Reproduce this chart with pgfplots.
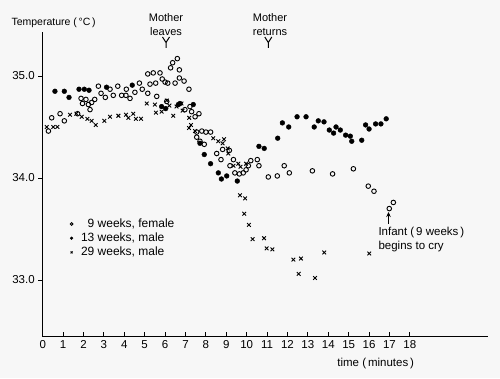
\documentclass[border=0pt]{standalone}
\usepackage{fontspec}
\setmainfont{Liberation Sans}
\usepackage{pgfplots}
\pgfplotsset{compat=1.18}
\usetikzlibrary{arrows.meta}
\begin{document}
\begin{tikzpicture}
\fill[black!3] (0pt,0pt) rectangle (500pt,378pt);
\useasboundingbox (0pt,0pt) rectangle (500pt,378pt);
\begin{axis}[
  at={(42.7pt,41.3pt)}, anchor=south west,
  scale only axis, width=445.3pt, height=305pt,
  xmin=0, xmax=21.83, ymin=32.444, ymax=35.434,
  axis x line=bottom, axis y line=left,
  axis line style={-, line width=1.1pt},
  xtick={0,...,18}, ytick={33,34,35}, yticklabels={33.0,34.0,35.0},
  xtick align=inside, ytick align=outside,
  major tick length=4.5pt,
  tick style={line width=0.9pt, black},
  /pgf/number format/assume math mode=true,
  tick label style={font=\fontsize{11.5}{13}\selectfont},
  clip=false,
  legend style={draw=none, fill=none, at={(0.0546,0.40)}, anchor=north west,
    font=\fontsize{12}{13.5}\selectfont, column sep=6pt,
    nodes={font=\fontsize{12}{13.5}\selectfont}},
  legend cell align=left,
  legend image post style={mark size=1.4pt},
]
\addplot[only marks, mark=o, mark size=2.3pt, mark options={line width=0.9pt}] table {
0.28 34.46
0.44 34.59
0.85 34.63
1.06 34.56
1.71 34.63
1.88 34.78
1.95 34.73
2.12 34.77
2.24 34.72
2.32 34.67
2.40 34.74
2.55 34.77
2.73 34.90
2.86 34.83
3.07 34.79
3.30 34.87
3.46 34.81
3.68 34.90
3.87 34.81
4.08 34.81
4.10 34.87
4.28 34.78
4.52 34.84
4.74 34.93
4.88 34.87
5.15 34.83
5.15 35.02
5.26 34.92
5.42 35.03
5.54 34.93
5.59 34.80
5.75 35.03
5.86 34.97
6.00 34.94
6.13 34.93
6.27 35.08
6.37 35.13
6.49 34.93
6.60 35.17
6.70 35.06
6.70 34.98
6.93 34.95
7.17 34.87
6.08 34.75
6.97 34.67
7.22 34.70
7.30 34.65
7.47 34.60
7.66 34.63
7.55 34.45
7.80 34.46
8.00 34.45
8.23 34.45
7.55 34.40
7.71 34.36
7.92 34.33
8.53 34.24
8.74 34.18
8.82 34.28
9.15 34.27
9.35 34.18
9.18 34.12
9.42 34.05
9.64 34.04
9.83 34.05
9.97 34.08
10.08 34.12
10.20 34.17
10.52 34.18
10.60 34.12
11.06 34.01
11.50 34.02
11.84 34.12
12.09 34.05
13.22 34.07
14.21 34.04
15.23 34.09
15.96 33.92
16.24 33.87
16.99 33.70
17.19 33.76
};
\addlegendentry{\hphantom{1}9 weeks, female}
\addplot[only marks, mark=*, mark size=2.4pt] table {
0.60 34.85
1.06 34.85
1.29 34.79
1.78 34.87
2.04 34.87
2.27 34.86
3.13 34.89
4.39 34.91
5.83 34.70
6.03 34.68
6.65 34.72
6.73 34.73
7.38 34.72
7.71 34.34
7.92 34.23
8.23 34.14
8.61 34.05
8.76 33.99
9.02 34.02
9.54 33.97
10.60 34.31
10.86 34.29
11.52 34.39
11.75 34.54
12.06 34.50
12.47 34.60
12.91 34.60
13.31 34.50
13.51 34.56
13.79 34.55
14.05 34.47
14.26 34.44
14.38 34.50
14.59 34.47
14.85 34.42
15.08 34.41
15.15 34.36
15.64 34.37
15.83 34.52
16.00 34.48
16.32 34.53
16.58 34.53
16.84 34.58
};
\addlegendentry{13 weeks, male}
\addplot[only marks, mark=x, mark size=2.6pt, mark options={line width=0.9pt}] table {
0.20 34.50
0.52 34.50
0.72 34.50
1.34 34.62
1.65 34.63
1.91 34.60
2.19 34.58
2.40 34.56
2.60 34.52
3.02 34.56
3.30 34.60
3.71 34.61
4.08 34.62
4.20 34.59
4.44 34.63
4.57 34.58
4.82 34.58
5.10 34.73
5.50 34.72
5.55 34.64
5.83 34.65
6.08 34.76
6.21 34.71
6.40 34.61
6.56 34.70
6.80 34.73
6.86 34.66
7.18 34.59
7.27 34.52
7.17 34.49
7.47 34.46
8.36 34.39
8.61 34.36
8.82 34.34
8.89 34.38
9.07 34.29
9.10 34.24
9.35 34.12
9.59 34.14
9.70 34.11
9.97 34.14
9.67 33.83
9.92 33.80
9.88 33.65
10.11 33.54
10.29 33.40
10.85 33.41
10.98 33.31
11.26 33.30
12.29 33.20
12.66 33.21
12.55 33.06
13.35 33.02
13.80 33.27
16.01 33.26
};
\addlegendentry{29 weeks, male}
\end{axis}
\node[anchor=west, font=\fontsize{10.5}{13}\selectfont] at (8pt,355pt) {Temperature (\,°C\,)};
\node[align=center, font=\fontsize{11}{14.5}\selectfont] at (166pt,353.5pt) {Mother\\leaves};
\draw[line width=1pt] (162.5pt,341pt)--(166pt,335.5pt)--(169.5pt,341pt) (166pt,335.5pt)--(166pt,330pt);
\node[align=center, font=\fontsize{11}{14.5}\selectfont] at (270pt,353.5pt) {Mother\\returns};
\draw[line width=1pt] (264.8pt,341pt)--(268.3pt,335.5pt)--(271.8pt,341pt) (268.3pt,335.5pt)--(268.3pt,330pt);
\node[anchor=west, align=left, font=\fontsize{11.5}{14}\selectfont] at (375pt,138.3pt) {Infant (\,9 weeks\,)\\begins to cry};
\draw[-{Stealth[length=5pt,width=4.5pt]}, line width=0.9pt] (388.5pt,154pt)--(388.5pt,166pt);
\node[font=\fontsize{11.5}{13}\selectfont] at (375.7pt,14.7pt) {time (\,minutes\,)};
\end{tikzpicture}
\end{document}
